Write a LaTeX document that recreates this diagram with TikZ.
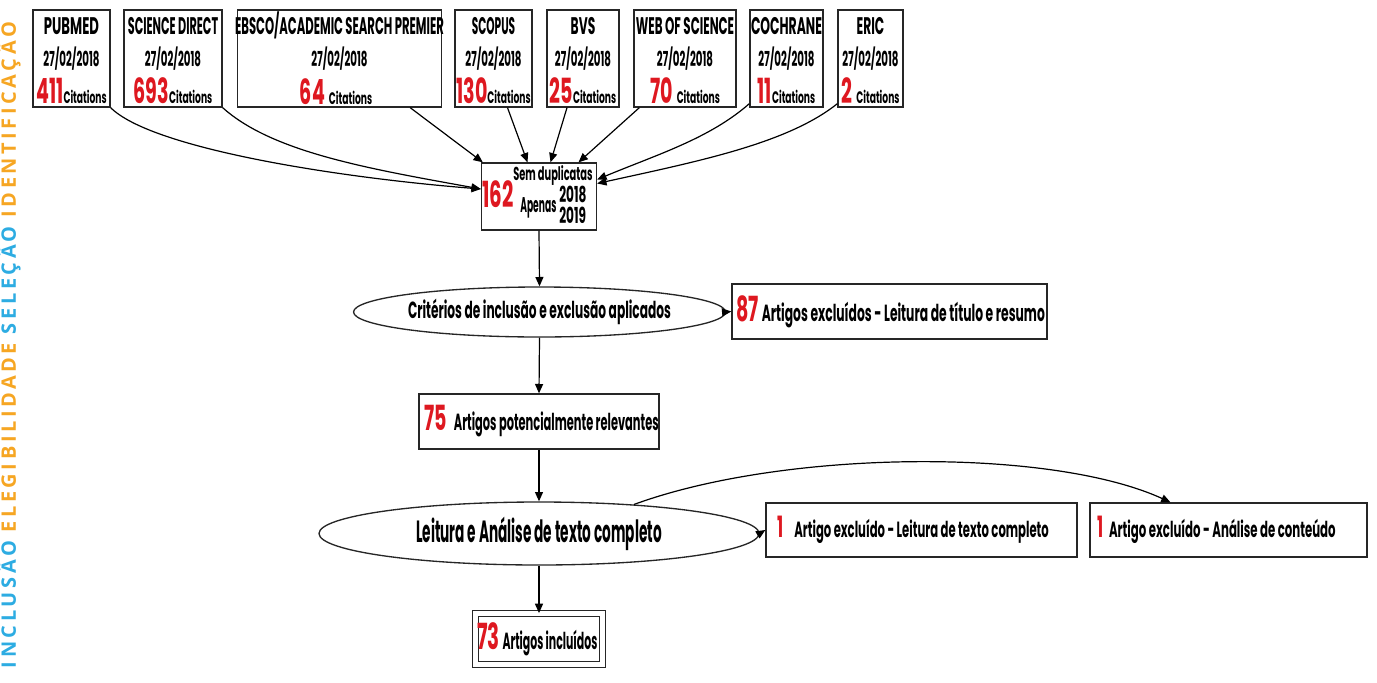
\documentclass[tikz,border=0pt]{standalone}
\usepackage{fontspec}
\usepackage{graphicx}
\usetikzlibrary{arrows.meta,shapes.geometric,calc}
\newfontfamily\cf[FakeStretch=0.55]{Poppins}
\newfontfamily\sideF[LetterSpace=18]{Open Sans}
\definecolor{numred}{RGB}{222,24,32}
\definecolor{sideblue}{RGB}{45,172,226}
\definecolor{sideorange}{RGB}{246,166,35}
\newcommand\hs[2]{\scalebox{#1}[1]{#2}}
\newcommand\tfont{\cf\bfseries\fontsize{18}{20}\selectfont}
\newcommand\dfont{\cf\bfseries\fontsize{15.5}{18}\selectfont}
\newcommand\nfont{\cf\bfseries\fontsize{26}{28}\selectfont}
\newcommand\cfont{\cf\bfseries\fontsize{12.5}{14}\selectfont}
\newcommand\srcnode[6]{%
  \node[srcbox, minimum width=#3] (#1) at (#2,58.5) {};
  \node[lbl, anchor=base] (#1-t) at (#2,34) {\hs{#6}{\tfont #4}};
  \node[lbl, anchor=base] (#1-d) at (#2,66) {\hs{0.9}{\dfont 27/02/2018}};
  \node[lbl, anchor=base] (#1-n) at (#2,103) {{\nfont\color{numred}#5}{\cfont Citations}};
}
\begin{document}
\begin{tikzpicture}[x=0.75pt,y=-0.75pt,
  srcbox/.style={draw=black!85, line width=1pt, fill=white, minimum height=72.75pt, inner sep=0pt},
  flowbox/.style={draw=black!85, line width=1pt, fill=white, inner sep=0pt},
  oval/.style={ellipse, draw=black!85, line width=1pt, fill=white, inner sep=0pt, font=\cf\bfseries},
  lbl/.style={inner sep=0pt, font=\cf\bfseries},
  conn/.style={draw=black, line width=0.9pt, -{Triangle[length=7pt,width=6pt]}},
]
\useasboundingbox (0,0) rectangle (1377,682);

% side label
\node[rotate=90, inner sep=0pt] (side) at (9,345) {\resizebox{484.5pt}{!}{\sideF\bfseries
  \color{sideblue}INCLUSÃO \color{sideorange}ELEGIBILIDADE \color{sideblue}SELEÇÃO \color{sideorange}IDENTIFICAÇÃO}};

% sources
\srcnode{pubmed}{71.5}{57.75pt}{PUBMED}{411}{1.0}
\srcnode{sd}{173}{73.5pt}{SCIENCE DIRECT}{693}{0.85}
\srcnode{scopus}{493.5}{57.75pt}{SCOPUS}{130}{0.8}
\srcnode{bvs}{583}{54pt}{BVS}{25}{0.93}
\srcnode{wos}{685}{76.5pt}{WEB OF SCIENCE}{70\ }{0.9}
\srcnode{cochrane}{786.5}{54.75pt}{COCHRANE}{11}{0.94}
\srcnode{eric}{870.5}{48.75pt}{ERIC}{2\ }{0.93}
\node[srcbox, minimum width=153pt] (ebsco) at (339.5,58.5) {};
\node[lbl, anchor=base] (ebsco-t) at (339.5,34) {\hs{0.88}{\tfont EBSCO/ACADEMIC SEARCH PREMIER}};
\node[lbl, anchor=base] (ebsco-d) at (339.5,66) {\hs{0.9}{\dfont 27/02/2018}};
\node[lbl, anchor=base] (ebsco-n) at (336,104) {{\nfont\color{numred}64\ }{\cfont Citations}};

% dedup box
\node[flowbox, minimum width=86.25pt, minimum height=50.25pt] (dup) at (539,196.5) {};
\node[lbl, anchor=base west] (dupn) at (482,207) {\fontsize{27}{27}\selectfont\color{numred}162};
\node[lbl, anchor=base west] (dups) at (513,180) {\hs{0.96}{\fontsize{14}{14}\selectfont Sem duplicatas}};
\node[lbl, anchor=base west] (dupa) at (520,212) {\hs{0.78}{\fontsize{16}{16}\selectfont Apenas}};
\node[lbl, anchor=base west] (dupy) at (559,202) {\fontsize{16.5}{16.5}\selectfont 2018};
\node[lbl, anchor=base west] (dupz) at (559,223) {\fontsize{16.5}{16.5}\selectfont 2019};

% flow
\node[oval, minimum width=273pt, minimum height=37.5pt] (ell1) at (539.5,312) {\hs{0.95}{\fontsize{17.5}{17.5}\selectfont Critérios de inclusão e exclusão aplicados}};
\node[flowbox, minimum width=236.25pt, minimum height=41.25pt] (ex87) at (889.5,311.5) {};
\node[lbl, anchor=west] (ex87t) at ($(ex87.west)+(5,0)$) {{\fontsize{26}{26}\selectfont\color{numred}87}\hspace{2pt}\hs{0.96}{\fontsize{17.5}{17.5}\selectfont Artigos excluídos - Leitura de título e resumo}};

\node[flowbox, minimum width=180pt, minimum height=41.25pt] (rel) at (539,421.5) {};
\node[lbl, anchor=west] (relt) at ($(rel.west)+(6,0)$) {{\fontsize{26}{26}\selectfont\color{numred}75}\hspace{5pt}\hs{0.89}{\fontsize{17.5}{17.5}\selectfont Artigos potencialmente relevantes}};

\node[oval, minimum width=330pt, minimum height=47.25pt] (ell2) at (539,533.5) {\hs{0.81}{\fontsize{23}{23}\selectfont Leitura e Análise de texto completo}};
\node[flowbox, minimum width=233.25pt, minimum height=40.5pt] (ex1) at (921.5,530) {};
\node[lbl, anchor=west] (ex1t) at ($(ex1.west)+(12,0)$) {{\fontsize{22}{22}\selectfont\color{numred}1}\hspace{8pt}\hs{0.96}{\fontsize{16.5}{16.5}\selectfont Artigo excluído - Leitura de texto completo}};
\node[flowbox, minimum width=207.75pt, minimum height=40.5pt] (ex2) at (1228.5,530) {};
\node[lbl, anchor=west] (ex2t) at ($(ex2.west)+(8,0)$) {{\fontsize{22}{22}\selectfont\color{numred}1}\hspace{4pt}\hs{0.97}{\fontsize{16.5}{16.5}\selectfont Artigo excluído - Análise de conteúdo}};

\node[flowbox, draw=black!85, line width=0.9pt, double, double distance=3.5pt, minimum width=95pt, minimum height=38pt] (inc) at (539,639) {};
\node[lbl, anchor=west] (inct) at ($(inc.west)+(2,0)$) {{\fontsize{27}{27}\selectfont\color{numred}73}\hspace{2pt}\hs{0.85}{\fontsize{17.5}{17.5}\selectfont Artigos incluídos}};

% connectors from sources
\draw[conn] (pubmed.south east) .. controls +(40,40) and +(-150,-12) .. ($(dup.west)+(0,-7.5)$);
\draw[conn] (sd.south east) .. controls +(50,45) and +(-110,-20) .. ($(dup.west)+(0,-7.5)$);
\draw[conn] ($(ebsco.south east)+(-32,0)$) -- ($(dup.north west)+(2,0)$);
\draw[conn] ($(scopus.south)+(14,0)$) -- ($(dup.north)+(-11.5,0)$);
\draw[conn] ($(bvs.south)+(-16,0)$) -- ($(dup.north)+(11.5,0)$);
\draw[conn] ($(wos.south west)+(6,0)$) -- ($(dup.north)+(39.5,0)$);
\draw[conn] ($(cochrane.south west)+(0,-4)$) .. controls +(-40,35) and +(60,-25) .. ($(dup.east)+(0,-17)$);
\draw[conn] ($(eric.south west)+(0,-4)$) .. controls +(-50,40) and +(100,-22) .. ($(dup.east)+(0,-13)$);

% flow connectors
\draw[conn] (dup.south) -- (ell1.north);
\draw[conn] (ell1.south) -- (rel.north);
\draw[conn] (rel.south) -- (ell2.north);
\draw[conn] (ell2.south) -- (inc.north);
\draw[conn] (ell1.east) -- (ex87.west);
\draw[conn] (ell2.east) -- (ex1.west);
\draw[conn] (ell2.17) .. controls +(150,-55) and +(-120,-55) .. ($(ex2.north)+(-58,0)$);
\end{tikzpicture}
\end{document}
